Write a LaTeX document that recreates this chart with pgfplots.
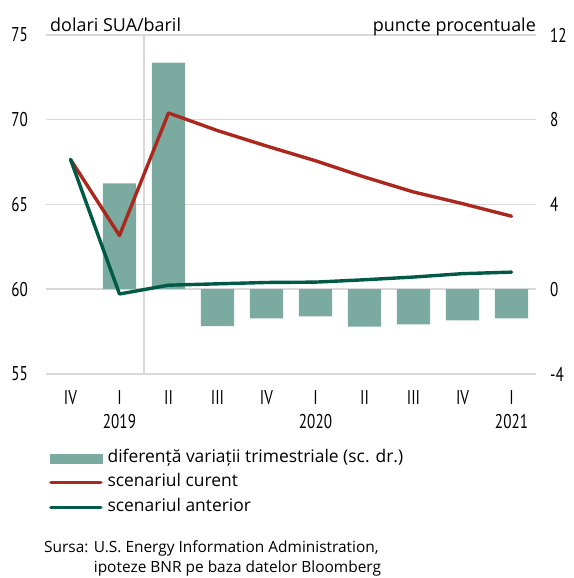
\documentclass[border=0pt]{standalone}
\usepackage{pgfplots}
\pgfplotsset{compat=1.18}
\usepackage{fontspec}
\setmainfont{Open Sans}
\newfontfamily\tickfont[FakeStretch=0.76]{PT Sans}

\definecolor{barfill}{RGB}{123,170,161}
\definecolor{curred}{RGB}{170,40,30}
\definecolor{prevgreen}{RGB}{0,90,70}
\definecolor{gridgray}{RGB}{217,217,217}

% tick label text, set upright in the condensed face
\newcommand{\tk}[1]{\mbox{\tickfont\fontsize{20}{20}\selectfont #1}}
\newcommand{\tky}[2]{\mbox{\tickfont\fontsize{20}{20}\selectfont\begin{tabular}{@{}c@{}}#1\\[4bp]#2\end{tabular}}}

\begin{document}
\begin{tikzpicture}
\useasboundingbox (-46bp,-204bp) rectangle (528bp,374bp);

\pgfplotsset{
  frame/.style={
    scale only axis, width=490bp, height=339bp,
    at={(0,0)}, anchor=south west,
    xmin=-0.5, xmax=9.5,
    axis line style={draw=none},
    major tick length=0pt,
  },
}

% right scale: difference of quarterly changes (percentage points)
\begin{axis}[
  frame,
  ymin=-4, ymax=12, ytick={-4,0,4,8,12},
  yticklabels={\tk{-4},\tk{0},\tk{4},\tk{8},\tk{12}},
  yticklabel pos=right,
  ymajorgrids, grid style={gridgray, line width=1.5bp},
  yticklabel style={anchor=west, inner sep=0pt, xshift=14bp},
  xtick={0,...,9},
  xticklabels={\tk{IV},\tky{I}{2019},\tk{II},\tk{III},\tk{IV},\tky{I}{2020},\tk{II},\tk{III},\tk{IV},\tky{I}{2021}},
  xticklabel style={anchor=north, inner sep=0pt, yshift=-16bp},
]
\draw[gridgray, line width=1.5bp] (axis cs:1.5,-4) -- (axis cs:1.5,12);
\addplot[ybar, bar width=0.68, fill=barfill, draw=none] coordinates {
  (1,5.00) (2,10.70) (3,-1.74) (4,-1.38) (5,-1.28)
  (6,-1.76) (7,-1.66) (8,-1.47) (9,-1.38)
};
\end{axis}

% left scale: oil price scenarios (USD/barrel)
\begin{axis}[
  frame,
  ymin=55, ymax=75, ytick={55,60,...,75},
  yticklabels={\tk{55},\tk{60},\tk{65},\tk{70},\tk{75}},
  yticklabel pos=left,
  yticklabel style={anchor=east, inner sep=0pt, xshift=-18bp},
  xtick=\empty,
  legend cell align=left,
  legend style={
    at={(rel axis cs:0,0)}, anchor=north west, xshift=3bp, yshift=-76bp,
    draw=none, fill=none, inner sep=0pt,
    font=\fontsize{17.5}{17.5}\selectfont,
    row sep=8.5bp, column sep=5bp,
    nodes={inner sep=0pt, text height=12bp, text depth=4bp},
  },
]
\addlegendimage{legend image code/.code={\fill[barfill] (0bp,-4.5bp) rectangle (52bp,4.5bp);}}
\addlegendentry{diferență variații trimestriale (sc. dr.)}

\addplot[curred, line width=3.4bp, line join=round, line cap=round,
  legend image code/.code={\draw[curred, line width=3.4bp, line cap=round] (1bp,0bp) -- (51bp,0bp);}]
  coordinates {
  (0,67.66) (1,63.17) (2,70.40) (3,69.36) (4,68.45)
  (5,67.58) (6,66.62) (7,65.74) (8,65.05) (9,64.31)
};
\addlegendentry{scenariul curent}

\addplot[prevgreen, line width=3.4bp, line join=round, line cap=round,
  legend image code/.code={\draw[prevgreen, line width=3.4bp, line cap=round] (1bp,0bp) -- (51bp,0bp);}]
  coordinates {
  (0,67.66) (1,59.72) (2,60.24) (3,60.32) (4,60.40)
  (5,60.42) (6,60.56) (7,60.72) (8,60.92) (9,61.01)
};
\addlegendentry{scenariul anterior}
\end{axis}

% unit captions above the plot area
\node[anchor=base west, inner sep=0pt, font=\fontsize{18}{18}\selectfont] at (4bp,342bp) {dolari SUA/baril};
\node[anchor=base east, inner sep=0pt, font=\fontsize{18}{18}\selectfont] at (490bp,342bp) {puncte procentuale};

% source note
\node[anchor=north west, inner sep=0pt, font=\fontsize{15.5}{20}\selectfont] at (-2bp,-164bp) {%
  \begin{tabular}{@{}l@{ }l@{}}
  Sursa: & U.S. Energy Information Administration,\\
         & ipoteze BNR pe baza datelor Bloomberg
  \end{tabular}};
\end{tikzpicture}
\end{document}
